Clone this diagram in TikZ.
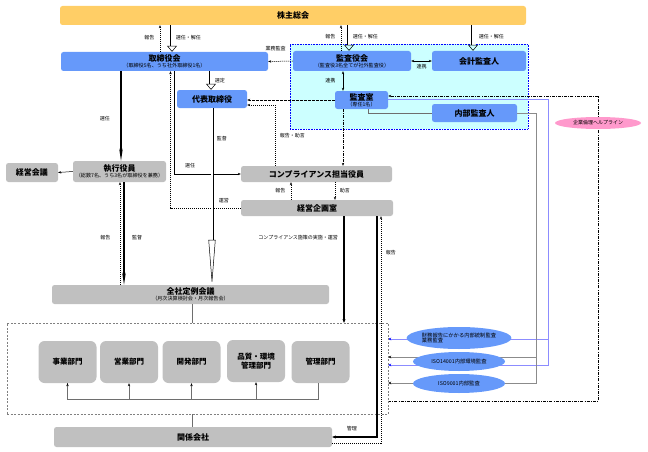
\documentclass[tikz,border=0pt]{standalone}
\usepackage{fontspec}
\setmainfont{Noto Sans CJK JP}
\usepackage{tikz}
\usetikzlibrary{
  arrows.meta,
  positioning,
  shapes.geometric,
  backgrounds
}
\definecolor{boxblue}{RGB}{102,153,250}
\definecolor{boxgray}{RGB}{192,192,192}
\definecolor{meetorange}{RGB}{255,206,102}
\definecolor{auditcyan}{RGB}{204,255,255}
\definecolor{helppink}{RGB}{255,153,204}
\definecolor{lineblue}{RGB}{140,140,255}
\definecolor{linegray}{RGB}{110,110,110}
\newcommand{\subnote}[1]{\\[-3pt]{\fontsize{5.1}{5.5}\selectfont\mdseries #1}}

\begin{document}
\begin{tikzpicture}[x=1pt,y=-1pt,
  box/.style    ={rounded corners=2.5pt,inner sep=0pt,align=center,
                  font=\bfseries\fontsize{8}{9}\selectfont},
  bluebox/.style={box,fill=boxblue},
  graybox/.style={box,fill=boxgray},
  dept/.style   ={graybox,rounded corners=6pt,minimum width=58pt,minimum height=42pt,
                  font=\bfseries\fontsize{7.5}{9}\selectfont},
  oval/.style   ={ellipse,fill=boxblue,inner sep=0pt,minimum width=92pt,
                  font=\fontsize{5.3}{5.8}\selectfont,align=left},
  lbl/.style    ={font=\fontsize{5}{6}\selectfont,inner sep=0.5pt},
  arr/.style    ={-{Stealth[length=3pt,width=2.4pt]},line width=0.5pt},
  twoway/.style ={{Stealth[length=3pt,width=2.4pt]}-{Stealth[length=3pt,width=2.4pt]},line width=0.5pt},
  dotarr/.style ={arr,dash pattern=on 1.2pt off 0.8pt},
  dasharr/.style={arr,dash pattern=on 2.5pt off 1.5pt},
  dotdash/.style={arr,dash pattern=on 3pt off 1.2pt on 0.8pt off 1.2pt},
  hollow/.style ={double,double distance=3pt,line width=0.5pt,
                  -{Triangle[open,length=6pt,width=10pt,line width=0.5pt]}},
  longhollow/.style={double,double distance=2pt,line width=0.5pt,
                  -{Triangle[open,length=45pt,width=7pt,line width=0.5pt]}},
  heavy/.style  ={line width=1.3pt,-{Stealth[length=12pt,width=3.5pt]}},
  strong/.style ={line width=1.1pt,-{Stealth[length=3.5pt,width=3pt]}},
  link/.style   ={draw=linegray,line width=0.6pt},
  busarr/.style ={link,-{Stealth[length=3pt,width=2.4pt,color=black]}},
  bluearr/.style={draw=lineblue,line width=0.7pt,-{Stealth[length=3pt,width=2.6pt,color=blue]}},
  grayarr/.style={draw=linegray!80,line width=0.7pt,-{Stealth[length=3pt,width=2.6pt,color=black]}},
]
\useasboundingbox (0,0) rectangle (648,452);

% 監査の枠
\begin{scope}[on background layer]
  \node[draw=blue,fill=auditcyan,line width=0.8pt,dash pattern=on 0.8pt off 0.8pt,
        minimum width=238pt,minimum height=85pt] (auditarea) at (409,86.5) {};
\end{scope}

\node[box,fill=meetorange,minimum width=466pt,minimum height=19pt] (agm) at (293,15.5) {株主総会};

\node[bluebox,minimum width=207pt,minimum height=19pt] (board) at (164.5,61.5)
  {取締役会\subnote{（取締役5名、うち社外取締役1名）}};
\node[bluebox,minimum width=118pt,minimum height=20pt] (kab) at (352,61)
  {監査役会\subnote{（監査役3名全てが社外監査役）}};
\node[bluebox,minimum width=94pt,minimum height=20pt]  (acct) at (479,61) {会計監査人};
\node[bluebox,minimum width=53pt,minimum height=18pt]  (iaoffice) at (361.5,100)
  {監査室\subnote{（専任1名）}};
\node[bluebox,minimum width=85pt,minimum height=18pt]  (iauditor) at (474.5,113) {内部監査人};
\node[bluebox,minimum width=70pt,minimum height=18pt]  (ceo) at (212,99) {代表取締役};

\node[graybox,minimum width=93pt,minimum height=21pt]  (officers) at (119.5,171.5)
  {執行役員\subnote{（総数7名、うち3名が取締役を兼務）}};
\node[graybox,minimum width=52pt,minimum height=19pt]  (mgmtmtg) at (32,172.5) {経営会議};
\node[graybox,minimum width=151pt,minimum height=16pt] (cco) at (316.5,174) {コンプライアンス担当役員};
\node[graybox,minimum width=152pt,minimum height=16pt] (planning) at (317,208) {経営企画室};
\node[graybox,minimum width=277pt,minimum height=19pt] (allmtg) at (190.5,294.5)
  {全社定例会議\subnote{（月次決算検討会・月次報告会）}};

\node[draw=gray,dash pattern=on 2pt off 1.5pt,minimum width=381pt,minimum height=91pt] (units) at (197.5,368.5) {};
\node[dept] (jigyo)     at (67.5,362)  {事業部門};
\node[dept] (eigyo)     at (129,362)   {営業部門};
\node[dept] (kaihatsu)  at (191.5,362) {開発部門};
\node[dept] (hinshitsu) at (256,361)   {品質・環境\\管理部門};
\node[dept] (kanri)     at (320.5,362) {管理部門};
\node[graybox,minimum width=278pt,minimum height=20pt] (group) at (193,437) {関係会社};

\node[oval,minimum height=22pt] (ovfin)   at (459,338)   {財務報告にかかる内部統制監査\\業務監査};
\node[oval,minimum height=19pt] (oviso14) at (459,361.5) {ISO14001内部環境監査};
\node[oval,minimum height=19pt] (oviso9)  at (459,383.5) {ISO9001内部監査};
\node[ellipse,fill=helppink,inner sep=0pt,minimum width=86pt,minimum height=12pt,
      font=\fontsize{5}{6}\selectfont] (helpline) at (598,123) {企業倫理ヘルプライン};

% 株主総会
\draw[hollow] ([xshift=-121pt]agm.south) -- ([xshift=7.5pt]board.north)
  node[lbl,right=3pt,pos=.45] {選任・解任};
\draw[dotarr] ([xshift=-4.5pt]board.north) -- ([xshift=-133pt]agm.south)
  node[lbl,left=5pt,pos=.55] {報告};
\draw[hollow] ([xshift=56pt]agm.south) -- ([xshift=-3pt]kab.north)
  node[lbl,right=3pt,pos=.45] {選任・解任};
\draw[dotarr] ([xshift=-11pt]kab.north) -- ([xshift=48pt]agm.south)
  node[lbl,left=5pt,pos=.55] {報告};
\draw[hollow] ([xshift=180pt]agm.south) -- ([xshift=-6pt]acct.north)
  node[lbl,right=5pt,pos=.45] {選任・解任};

% 監査
\draw[twoway] (kab.east) -- (acct.west) node[lbl,below=3pt,midway] {連携};
\draw[twoway] ([xshift=-9pt]kab.south) -- ([xshift=-18.5pt]iaoffice.north)
  node[lbl,left=7pt,midway] {連携};
\draw[link] ([xshift=6.5pt]iaoffice.south) |- (iauditor.west);
\draw[dotarr] (kab.west) -- (board.east) node[lbl,above=10pt,pos=.7] {業務監査};
\draw[dasharr] (iaoffice.west) -- ([yshift=-1pt]ceo.east);
\draw[dotdash] ([xshift=-18.5pt]iaoffice.south) -- ([xshift=26.5pt]cco.north);

% 取締役会・代表取締役
\draw[hollow] ([xshift=46.5pt]board.south) -- ([xshift=-1pt]ceo.north)
  node[lbl,right=3pt,midway] {選定};
\draw[dotarr] ([xshift=-41.5pt]cco.north) |- ([yshift=-6pt]ceo.east)
  node[lbl,right=4pt,pos=.25] {報告・助言};
\draw[heavy] ([xshift=-43.5pt]board.south) -- ([xshift=1.5pt]officers.north)
  node[lbl,left=10pt,pos=.53] {選任};
\draw[arr] ([xshift=9.5pt]board.south) |- (cco.west)
  node[lbl,above=5pt,pos=.62] {選任};
\draw[dotarr] (planning.west) -| ([xshift=6pt]board.south)
  node[lbl,above=4pt,pos=.12] {運営};
\draw[longhollow] (ceo.south) -- ([xshift=21.5pt]allmtg.north)
  node[lbl,right=4pt,pos=.17] {監督};

% 執行役員
\draw[arr] (officers.west) -- (mgmtmtg.east);
\draw[heavy] ([xshift=4.5pt]officers.south) -- ([xshift=-66.5pt]allmtg.north)
  node[lbl,right=7pt,pos=.54] {監督};
\draw[dotarr] ([xshift=-70.5pt]allmtg.north) -- ([xshift=0.5pt]officers.south)
  node[lbl,left=9pt,pos=.46] {報告};

% コンプライアンス
\draw[dotarr] ([xshift=-26pt]planning.north) -- ([xshift=-25.5pt]cco.south)
  node[lbl,left=5pt,midway] {報告};
\draw[dotarr] ([xshift=18.5pt]cco.south) -- ([xshift=18pt]planning.north)
  node[lbl,right=4pt,midway] {助言};
\draw[strong] ([xshift=27pt]planning.south) -- ([xshift=146.5pt]units.north)
  node[lbl,left=5pt,pos=.2] {コンプライアンス施策の実施・運営};
\draw[strong] ([xshift=60pt]planning.south) |- (group.east)
  node[lbl,above=5pt,pos=.78] {管理};
\draw[dotarr] ([yshift=-6pt]group.east) -| ([xshift=64pt]planning.south)
  node[lbl,right=4pt,pos=.92] {報告};

% 部門
\draw[link] ([xshift=1.5pt]allmtg.south) -- ([xshift=-5.5pt]units.north);
\draw[link] ([xshift=-5.5pt]units.south) -- ([xshift=-1pt]group.north);
\draw[link] ([xshift=-2.5pt]kanri.south) -- ++(0,16) coordinate (busend) -| (jigyo.south);
\foreach \d in {jigyo,eigyo,kaihatsu,hinshitsu}
  \draw[busarr] (\d.south |- busend) -- (\d.south);

% 監査ルート
\begin{scope}[on background layer]
  \draw[dotdash] ([yshift=-32.5pt]units.east) -| (helpline.center) |- ([yshift=4pt]iaoffice.east);
  \draw[bluearr] ([yshift=1pt]iaoffice.east) -| ([xshift=160pt,yshift=3.5pt]units.east)
    -- ([yshift=3.5pt]units.east);
  \draw[bluearr] ([xshift=160pt,yshift=29.5pt]units.east) -- ([yshift=29.5pt]units.east);
  \draw[grayarr] (iauditor.east) -| ([xshift=148pt,yshift=-14.5pt]units.east)
    -- ([yshift=-14.5pt]units.east);
  \draw[grayarr] ([xshift=148pt,yshift=11.5pt]units.east) -- ([yshift=11.5pt]units.east);
\end{scope}
\end{tikzpicture}
\end{document}
